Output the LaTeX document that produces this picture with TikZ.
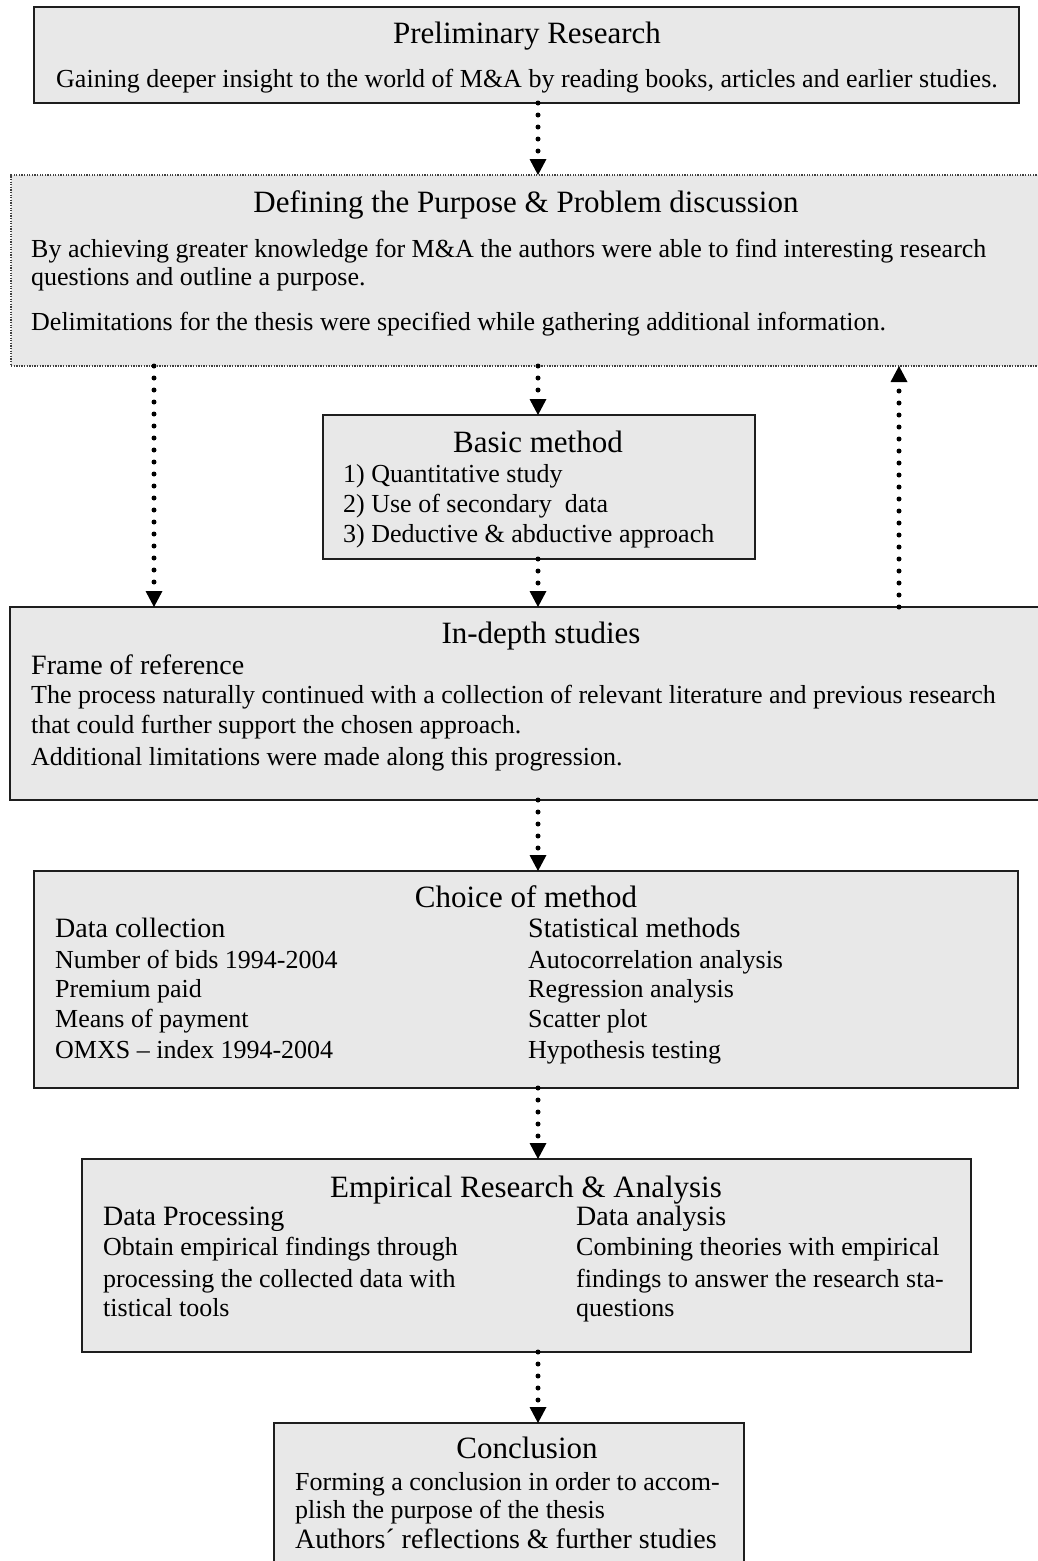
\documentclass[tikz,border=0pt]{standalone}
\usepackage{fontspec}
\setmainfont{Liberation Serif}
\usetikzlibrary{arrows.meta}
\definecolor{boxfill}{HTML}{E8E8E8}
\definecolor{boxline}{HTML}{1E1E1E}
\begin{document}
\begin{tikzpicture}[x=1pt,y=-1pt,
  box/.style={draw=boxline, line width=2pt, fill=boxfill, rectangle, inner sep=0pt, outer sep=0pt, anchor=north west},
  dotbox/.style={box, draw=boxline!85, line width=1.3pt, dash pattern=on 1.3pt off 1.3pt},
  flow/.style={line width=5pt, line cap=round, dash pattern=on 0pt off 12pt, -{Triangle[width=17pt,length=16pt,line width=0pt]}},
  hd/.style={anchor=base, inner sep=0pt, font=\fontsize{31}{36}\selectfont},
  sub/.style={anchor=base west, inner sep=0pt, font=\fontsize{28}{32}\selectfont},
  txt/.style={anchor=base west, inner sep=0pt, font=\fontsize{26}{30}\selectfont},
  txtc/.style={txt, anchor=base}]
\useasboundingbox (0,0) rectangle (1038,1561);
\fill[white] (0,0) rectangle (1038,1561);

% boxes
\node[box, minimum width=985pt, minimum height=96pt] (pre) at (34,7) {};
\node[dotbox, minimum width=1040pt, minimum height=191pt] (def) at (11,175) {};
\node[box, minimum width=432pt, minimum height=144pt] (basic) at (323,415) {};
\node[box, minimum width=1040pt, minimum height=193pt] (ind) at (10,607) {};
\node[box, minimum width=984pt, minimum height=217pt] (choice) at (34,871) {};
\node[box, minimum width=889pt, minimum height=193pt] (emp) at (82,1159) {};
\node[box, minimum width=470pt, minimum height=160pt] (conc) at (274,1423) {};

% connector x positions
\coordinate (ax) at (538,0);
\coordinate (al) at (154,0);
\coordinate (ar) at (899,0);

% connectors
\draw[flow] (pre.south -| ax) -- (def.north -| ax);
\draw[flow] (def.south -| ax) -- (basic.north -| ax);
\draw[flow] (def.south -| al) -- (ind.north -| al);
\draw[flow] (basic.south -| ax) -- (ind.north -| ax);
\draw[flow] (ind.north -| ar) -- (def.south -| ar);
\draw[flow] (ind.south -| ax) -- (choice.north -| ax);
\draw[flow] (choice.south -| ax) -- (emp.north -| ax);
\draw[flow] (emp.south -| ax) -- (conc.north -| ax);

% Preliminary Research
\node[hd] (preh) at (527,43) {Preliminary Research};
\node[txtc] (pret) at (527,87) {Gaining deeper insight to the world of M\&A by reading books, articles and earlier studies.};

% Defining
\node[hd] (defh) at (526,212) {Defining the Purpose \& Problem discussion};
\node[txt] (deft1) at (31,257) {By achieving greater knowledge for M\&A the authors were able to find interesting research};
\node[txt] (deft2) at (31,285) {questions and outline a purpose.};
\node[txt] (deft3) at (31,330) {Delimitations for the thesis were specified while gathering additional information.};

% Basic method
\node[hd] (basich) at (538,452) {Basic method};
\node[txt] (basic1) at (343,482) {1) Quantitative study};
\node[txt] (basic2) at (343,512) {2) Use of secondary\ \ data};
\node[txt] (basic3) at (343,542) {3) Deductive \& abductive approach};

% In-depth
\node[hd] (indh) at (541,643) {In-depth studies};
\node[sub] (inds) at (31,674) {Frame of reference};
\node[txt] (indt1) at (31,703) {The process naturally continued with a collection of relevant literature and previous research};
\node[txt] (indt2) at (31,733) {that could further support the chosen approach.};
\node[txt] (indt3) at (31,765) {Additional limitations were made along this progression.};

% Choice of method
\node[hd] (choh) at (526,907) {Choice of method};
\node[sub] (chosl) at (55,937) {Data collection};
\node[sub] (chosr) at (528,937) {Statistical methods};
\node[txt] (chol1) at (55,968) {Number of bids 1994-2004};
\node[txt] (chol2) at (55,997) {Premium paid};
\node[txt] (chol3) at (55,1027) {Means of payment};
\node[txt] (chol4) at (55,1058) {OMXS – index 1994-2004};
\node[txt] (chor1) at (528,968) {Autocorrelation analysis};
\node[txt] (chor2) at (528,997) {Regression analysis};
\node[txt] (chor3) at (528,1027) {Scatter plot};
\node[txt] (chor4) at (528,1058) {Hypothesis testing};

% Empirical
\node[hd] (emph) at (526,1197) {Empirical Research \& Analysis};
\node[sub] (empsl) at (103,1225) {Data Processing};
\node[sub] (empsr) at (576,1225) {Data analysis};
\node[txt] (empl1) at (103,1255) {Obtain empirical findings through};
\node[txt] (empl2) at (103,1287) {processing the collected data with};
\node[txt] (empl3) at (103,1316) {tistical tools};
\node[txt] (empr1) at (576,1255) {Combining theories with empirical};
\node[txt] (empr2) at (576,1287) {findings to answer the research sta-};
\node[txt] (empr3) at (576,1316) {questions};

% Conclusion
\node[hd] (conh) at (527,1458) {Conclusion};
\node[txt] (cont1) at (295,1490) {Forming a conclusion in order to accom-};
\node[txt] (cont2) at (295,1518) {plish the purpose of the thesis};
\node[sub] (cont3) at (295,1548) {Authors´ reflections \& further studies};
\end{tikzpicture}
\end{document}
